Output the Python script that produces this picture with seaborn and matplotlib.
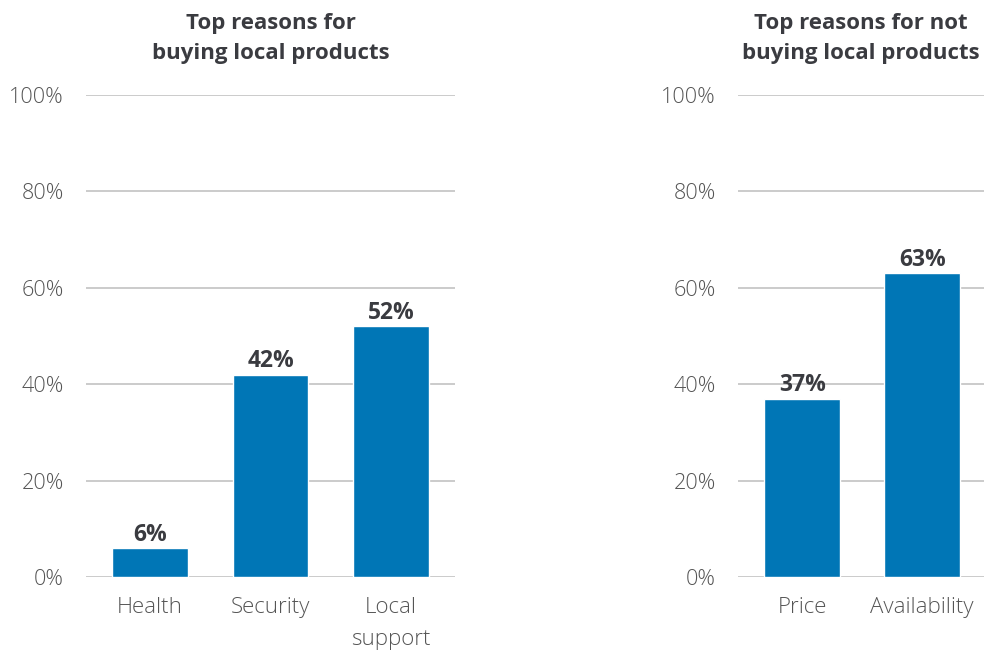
import matplotlib
matplotlib.use("Agg")
import matplotlib.pyplot as plt
import seaborn as sns
import pandas as pd

# Survey results (share of respondents, %)
buy_reasons = ["Health", "Security", "Local\nsupport"]
buy_values = [6, 42, 52]
notbuy_reasons = ["Price", "Availability"]
notbuy_values = [37, 63]
y_ticks = [0, 20, 40, 60, 80, 100]
y_tick_labels = ["0%", "20%", "40%", "60%", "80%", "100%"]
titles = ["Top reasons for\nbuying local products",
          "Top reasons for not\nbuying local products"]

sns.set_theme(style="white")
plt.rcParams["font.family"] = ["Open Sans", "DejaVu Sans"]

BAR = "#0076B6"
DARK = "#3a3b40"
TICK = "#555555"
GRID = "#bdbdbd"

fig = plt.figure(figsize=(9.84, 6.52), dpi=100)
ax1 = fig.add_axes([86 / 984, 75 / 652, 369 / 984, 482 / 652])
ax2 = fig.add_axes([738 / 984, 75 / 652, 246 / 984, 482 / 652])

panels = [
    (ax1, buy_reasons, buy_values, titles[0], (-0.531, 2.531)),
    (ax2, notbuy_reasons, notbuy_values, titles[1], (-0.535, 1.515)),
]

for ax, cats, vals, title, xlim in panels:
    df = pd.DataFrame({"reason": cats, "share": vals})
    sns.barplot(data=df, x="reason", y="share", color=BAR, width=0.63,
                saturation=1, ax=ax)
    ax.set_ylim(0, 100)
    ax.set_xlim(*xlim)
    ax.set_yticks(y_ticks)
    ax.set_yticklabels(y_tick_labels)
    ax.yaxis.grid(True, color=GRID, linewidth=1.1)
    ax.set_axisbelow(True)
    for s in ax.spines.values():
        s.set_visible(False)
    ax.set_xlabel("")
    ax.set_ylabel("")
    ax.tick_params(axis="y", length=0, pad=16, labelsize=15.6, labelcolor=TICK)
    ax.tick_params(axis="x", length=0, pad=14.5, labelsize=16, labelcolor=TICK)
    for lbl in ax.get_yticklabels():
        lbl.set_fontweight("light")
        lbl.set_verticalalignment("center_baseline")
    for lbl in ax.get_xticklabels():
        lbl.set_fontweight("light")
        lbl.set_linespacing(1.65)
        lbl.set_verticalalignment("top")
    for p, v in zip(ax.patches, vals):
        ax.annotate(f"{v}%", (p.get_x() + p.get_width() / 2, v),
                    xytext=(0, 1), textcoords="offset points",
                    ha="center", va="bottom", fontsize=16.5,
                    fontweight="bold", color=DARK)
    ax.set_title(title, fontsize=16, fontweight="bold", color=DARK,
                 pad=26, linespacing=1.58)

fig.savefig("out.png", dpi=100, facecolor="white")
